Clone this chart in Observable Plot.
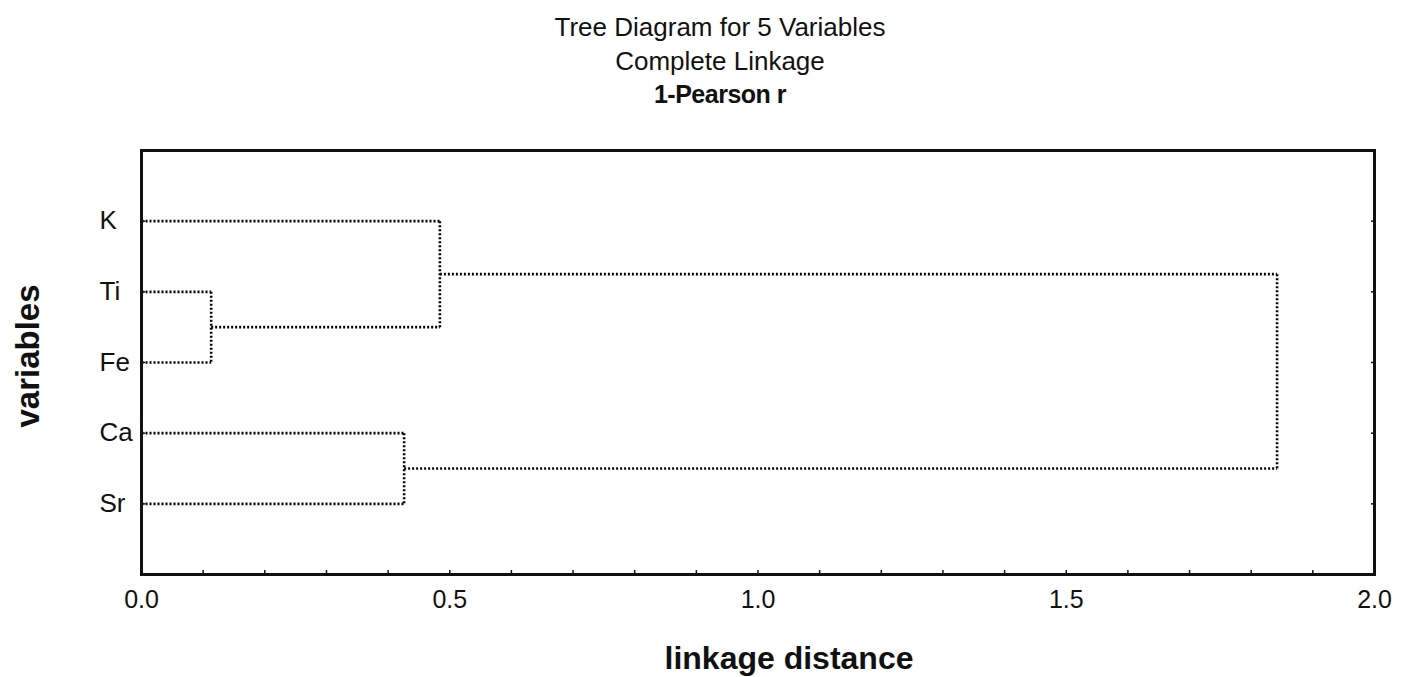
<!DOCTYPE html>
<html>
<head>
<meta charset="utf-8">
<script src="https://cdn.jsdelivr.net/npm/d3@7"></script>
<script src="https://cdn.jsdelivr.net/npm/@observablehq/plot@0.6"></script>
<style>
  body { margin: 0; background: #fff; font-family: "Liberation Sans", Arial, sans-serif; }
  #wrap { position: relative; width: 1409px; }
  #head { position: relative; height: 120px; width: 1409px; }
  #head div { position: absolute; left: 720px; transform: translateX(-50%); white-space: nowrap; color: #111; line-height: 1; }
  #t1 { top: 14px; font-size: 26px; }
  #t2 { top: 48px; font-size: 26px; }
  #t3 { top: 82px; font-size: 25px; font-weight: bold; letter-spacing: -0.5px; }
  #ylab { position: absolute; left: 27px; top: 356px; transform: translate(-50%, -50%) rotate(-90deg);
          font-size: 33px; font-weight: bold; color: #111; white-space: nowrap; line-height: 1; }
</style>
</head>
<body>
<div id="wrap">
  <div id="head">
    <div id="t1">Tree Diagram for 5 Variables</div>
    <div id="t2">Complete Linkage</div>
    <div id="t3">1-Pearson r</div>
  </div>
  <div id="chart"></div>
  <div id="ylab">variables</div>
</div>
<script>
// Leaves in display order (top to bottom)
const leaves = ["K", "Ti", "Fe", "Ca", "Sr"];
// Merge steps of the complete-linkage tree
const mergeName = ["C1", "C2", "C3", "C4"];
const mergeA = ["Ti", "Ca", "K", "C3"];
const mergeB = ["Fe", "Sr", "C1", "C2"];
const mergeDist = [0.113, 0.426, 0.484, 1.842];
// Axis ticks
const xLabelTicks = [0, 0.5, 1.0, 1.5, 2.0];
const xMinorTicks = d3.range(0, 21).map(i => i / 10);

// Build dendrogram segments from the merge table
const pos = new Map();
leaves.forEach((n, i) => pos.set(n, {y: i + 1, h: 0}));
const segs = [];
mergeName.forEach((name, i) => {
  const a = pos.get(mergeA[i]), b = pos.get(mergeB[i]), d = mergeDist[i];
  segs.push({x1: a.h, y1: a.y, x2: d, y2: a.y});
  segs.push({x1: b.h, y1: b.y, x2: d, y2: b.y});
  segs.push({x1: d, y1: a.y, x2: d, y2: b.y});
  pos.set(name, {y: (a.y + b.y) / 2, h: d});
});
const leafRows = leaves.map((n, i) => ({name: n, y: i + 1}));

const plot = Plot.plot({
  width: 1409,
  height: 557,
  marginLeft: 141,
  marginRight: 35,
  marginTop: 30,
  marginBottom: 103,
  style: {fontFamily: "'Liberation Sans', Arial, sans-serif", color: "#111", background: "#fff"},
  x: {domain: [0, 2]},
  y: {domain: [0, leaves.length + 1], reverse: true},
  marks: [
    Plot.link(segs, {x1: "x1", y1: "y1", x2: "x2", y2: "y2", stroke: "#000", strokeWidth: 2.6, strokeDasharray: "2,2", strokeLinecap: "butt"}),
    // minor inward ticks on bottom
    Plot.axisX({ticks: xMinorTicks, tickSize: -4, tickFormat: () => "", label: null, strokeWidth: 1.5}),
    // tick labels
    Plot.axisX({ticks: xLabelTicks, tickSize: 0, tickPadding: 16, tickFormat: d3.format(".1f"), fontSize: 25, label: null}),
    // inward ticks on right and left sides at each leaf
    Plot.axisY({anchor: "right", ticks: leafRows.map(d => d.y), tickSize: -4, tickFormat: () => "", label: null, strokeWidth: 1.5}),
    Plot.axisY({anchor: "left", ticks: leafRows.map(d => d.y), tickSize: -4, tickFormat: () => "", label: null, strokeWidth: 1.5}),
    // leaf labels, left aligned
    Plot.text(leafRows, {y: "y", text: "name", frameAnchor: "left", textAnchor: "start", dx: -42, fontSize: 26, fill: "#111"}),
    Plot.frame({stroke: "#111", strokeWidth: 3}),
    Plot.text(["linkage distance"], {frameAnchor: "bottom", dy: 94, dx: 31, fontSize: 32, fontWeight: "bold", fill: "#111"})
  ]
});
document.getElementById("chart").appendChild(plot);
</script>
</body>
</html>
